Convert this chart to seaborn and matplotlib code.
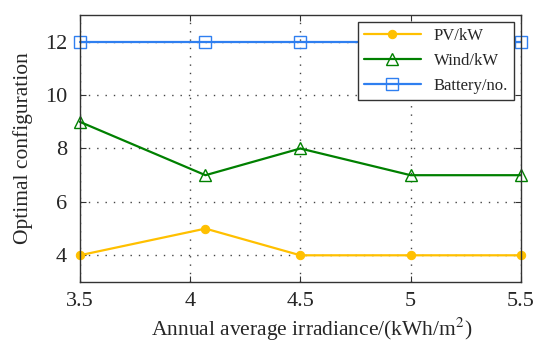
import matplotlib
matplotlib.use("Agg")
import matplotlib.pyplot as plt
import seaborn as sns
import pandas as pd

irradiance = [3.5, 4.07, 4.5, 5.0, 5.5]
pv_kw = [4, 5, 4, 4, 4]
wind_kw = [9, 7, 8, 7, 7]
battery_no = [12, 12, 12, 12, 12]

sns.set_style("ticks")
plt.rcParams['font.family'] = ['Liberation Serif', 'DejaVu Serif']
plt.rcParams['mathtext.fontset'] = 'stix'

df = pd.DataFrame({"x": irradiance, "PV/kW": pv_kw, "Wind/kW": wind_kw, "Battery/no.": battery_no})

fig, ax = plt.subplots(figsize=(5.5, 3.49), dpi=100)
fig.subplots_adjust(left=0.145, right=0.947, top=0.957, bottom=0.192)

sns.lineplot(data=df, x="x", y="PV/kW", ax=ax, color="#FFC000", marker="o", markersize=6,
             markeredgecolor="#FFC000", linewidth=1.6, label="PV/kW", clip_on=False)
sns.lineplot(data=df, x="x", y="Wind/kW", ax=ax, color="#008000", marker="^", markersize=9,
             markerfacecolor="none", markeredgecolor="#008000", markeredgewidth=1.0,
             linewidth=1.6, label="Wind/kW", clip_on=False)
sns.lineplot(data=df, x="x", y="Battery/no.", ax=ax, color="#2F7FF0", marker="s", markersize=9,
             markerfacecolor="none", markeredgecolor="#2F7FF0", markeredgewidth=1.0,
             linewidth=1.6, label="Battery/no.", clip_on=False)

ax.set_xlim(3.5, 5.5)
ax.set_ylim(3, 13)
ax.set_xticks([3.5, 4, 4.5, 5, 5.5])
ax.set_xticklabels(["3.5", "4", "4.5", "5", "5.5"])
ax.set_yticks([4, 6, 8, 10, 12])
ax.grid(True, linestyle=(0, (1, 5)), color="#444444", linewidth=1.0)
ax.tick_params(direction="in", top=True, right=True, labelsize=16, length=4, color="#333333")
ax.tick_params(axis="y", pad=9)
ax.tick_params(axis="x", pad=7)
for s in ax.spines.values():
    s.set_color("#333333")
    s.set_linewidth(1.0)

ax.set_xlabel("Annual average irradiance/(kWh/m$^2$)", fontsize=15.5)
ax.set_ylabel("Optimal configuration", fontsize=15.5)
ax.xaxis.set_label_coords(0.526, -0.125)
ax.yaxis.set_label_coords(-0.107, 0.5)

leg = ax.legend(loc="upper right", fontsize=12, frameon=True, fancybox=False,
                edgecolor="#333333", framealpha=1, borderaxespad=0.4,
                handlelength=3.4, labelspacing=0.55, borderpad=0.35)
leg.get_frame().set_linewidth(1.0)
leg.set_zorder(5)

plt.savefig("out.png", dpi=100)
